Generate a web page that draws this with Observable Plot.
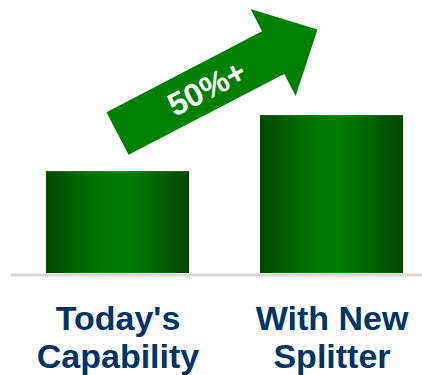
<!DOCTYPE html>
<html>
<head>
<meta charset="utf-8">
<script src="https://cdn.jsdelivr.net/npm/d3@7"></script>
<script src="https://cdn.jsdelivr.net/npm/@observablehq/plot@0.6"></script>
<style>
  html, body { margin: 0; padding: 0; background: #fff; }
  #chart svg { display: block; font-family: "Liberation Sans", Arial, sans-serif; }
</style>
</head>
<body>
<div id="chart"></div>
<script>
// Throughput comparison: current vs. with the new splitter
const categories = ["Today's\nCapability", "With New\nSplitter"];
const values = [100, 155];
const growthLabel = ["50%+"];
// arrow anchor levels (same units as the bars)
const arrowLevels = [137, 239];

const data = categories.map((c, i) => ({category: c, value: values[i]}));

const plot = Plot.plot({
  width: 422,
  height: 375,
  marginTop: 0,
  marginBottom: 102,
  marginLeft: 11,
  marginRight: 0,
  x: {domain: categories, range: [46, 403], paddingInner: 0.332, paddingOuter: 0},
  y: {domain: [0, 268], axis: null},
  marks: [
    Plot.barY(data, {x: "category", y: "value", fill: "url(#barGrad)"}),
    Plot.ruleY([0], {stroke: "#d9d9d9", strokeWidth: 3, dy: 1.5}),
    Plot.axisX({
      tickSize: 0,
      tickPadding: 29,
      fontSize: 34,
      fontWeight: "bold",
      lineHeight: 1.13,
      fill: "#003366",
      label: null
    })
  ]
});

// horizontal shading for the bars
const svg = d3.select(plot);
const grad = svg.insert("defs", ":first-child")
  .append("linearGradient")
  .attr("id", "barGrad")
  .attr("x1", "0").attr("y1", "0").attr("x2", "1").attr("y2", "0");
[[0, "#004c00"], [0.1, "#005300"], [0.28, "#006c00"], [0.42, "#007a00"],
 [0.56, "#007c00"], [0.7, "#006e00"], [0.88, "#005400"], [1, "#004a00"]]
  .forEach(([o, c]) => grad.append("stop").attr("offset", o).attr("stop-color", c));

// growth arrow, anchored on the bar scales
const X = plot.scale("x"), Y = plot.scale("y");
const tail = [X.apply(categories[0]) + X.bandwidth / 2, Y.apply(arrowLevels[0])];
const tip = [X.apply(categories[1]) + X.bandwidth / 2 - 14, Y.apply(arrowLevels[1])];
const L = Math.hypot(tip[0] - tail[0], tip[1] - tail[1]);
const angle = Math.atan2(tip[1] - tail[1], tip[0] - tail[0]) * 180 / Math.PI;
const headLen = 50, shaftHalf = 24, headHalf = 49;
const shape = [
  [0, -shaftHalf], [L - headLen, -shaftHalf], [L - headLen, -headHalf], [L, 0],
  [L - headLen, headHalf], [L - headLen, shaftHalf], [0, shaftHalf]
];
const arrow = svg.append("g")
  .attr("transform", `translate(${tail[0]},${tail[1]}) rotate(${angle})`);
arrow.append("polygon")
  .attr("points", shape.map(p => p.join(",")).join(" "))
  .attr("fill", "#008000");
arrow.append("text")
  .attr("x", 100).attr("y", 1)
  .attr("text-anchor", "middle")
  .attr("dominant-baseline", "central")
  .attr("fill", "#fff")
  .attr("font-size", 32)
  .attr("font-weight", "bold")
  .text(growthLabel[0]);

document.getElementById("chart").appendChild(plot);
</script>
</body>
</html>
